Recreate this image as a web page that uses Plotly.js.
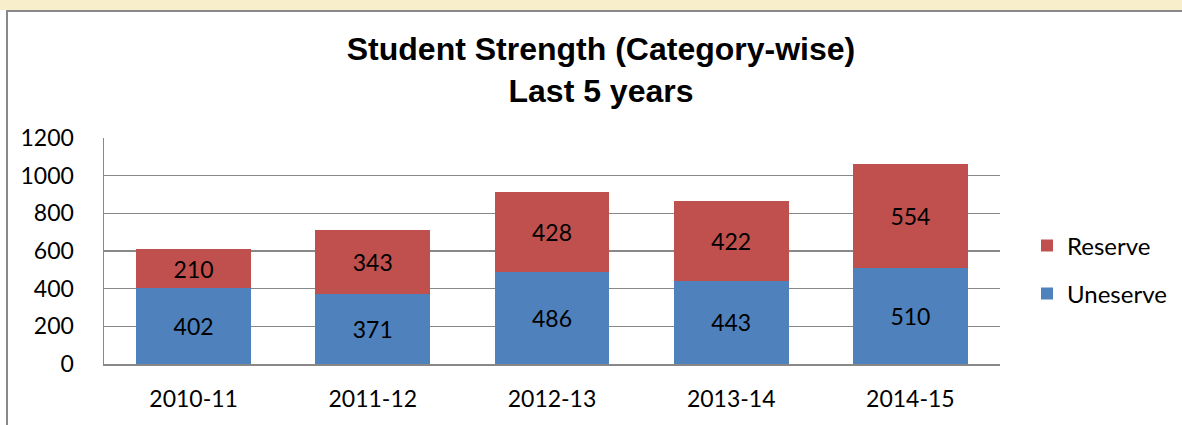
<!DOCTYPE html>
<html>
<head>
<meta charset="utf-8">
<script src="https://cdn.plot.ly/plotly-3.0.1.min.js"></script>
<style>html,body{margin:0;padding:0;background:#fff;}#chart{width:1182px;height:425px;}</style>
</head>
<body>
<div id="chart"></div>
<script>
const categories = ['2010-11', '2011-12', '2012-13', '2013-14', '2014-15'];
const unreserved = [402, 371, 486, 443, 510];
const reserved = [210, 343, 428, 422, 554];
const yTicks = [0, 200, 400, 600, 800, 1000, 1200];

const W = 1182, H = 425;
const mL = 104, mR = 182, mT = 138, mB = 61;
const pw = W - mL - mR, ph = H - mT - mB;
const px = x => (x - mL) / pw;
const py = y => (H - mB - y) / ph;

const baseFont = 'Lato, sans-serif';

const traces = [
  {
    type: 'bar', name: 'Uneserve', x: categories, y: unreserved,
    marker: {color: '#4F81BD'},
    text: unreserved.map(String), textposition: 'inside', insidetextanchor: 'middle',
    textfont: {family: baseFont, size: 23, color: '#000'},
    legend: 'legend2', hoverinfo: 'x+y+name'
  },
  {
    type: 'bar', name: 'Reserve', x: categories, y: reserved,
    marker: {color: '#C0504D'},
    text: reserved.map(String), textposition: 'inside', insidetextanchor: 'middle',
    textfont: {family: baseFont, size: 23, color: '#000'},
    legend: 'legend', hoverinfo: 'x+y+name'
  }
];

const legendStyle = y => ({
  xref: 'container', yref: 'container',
  x: 1027 / W, xanchor: 'left', y: 1 - y / H, yanchor: 'middle',
  font: {family: baseFont, size: 24, color: '#000'},
  bgcolor: 'rgba(0,0,0,0)', itemwidth: 30
});

const layout = {
  width: W, height: H,
  margin: {l: mL, r: mR, t: mT, b: mB, pad: 0, autoexpand: false},
  paper_bgcolor: '#ffffff', plot_bgcolor: '#ffffff',
  barmode: 'stack', bargap: 0.36,
  font: {family: baseFont, size: 23, color: '#000'},
  title: {
    text: '<b>Student Strength (Category-wise)</b><br><b>Last 5 years</b>',
    font: {family: 'Arial', size: 32, color: '#000'},
    x: 601 / W, xanchor: 'center', xref: 'container',
    y: 1 - 60 / H, yanchor: 'middle', yref: 'container'
  },
  xaxis: {
    type: 'category', showgrid: false, zeroline: false, automargin: false,
    showline: true, linecolor: '#888888', linewidth: 1.5,
    ticks: '', tickfont: {family: baseFont, size: 23, color: '#000'},
    ticklabelstandoff: 14
  },
  yaxis: {
    range: [0, 1200], tickvals: yTicks, ticktext: yTicks.map(String), automargin: false,
    showgrid: true, gridcolor: '#888888', gridwidth: 1.5,
    zeroline: false, showline: true, linecolor: '#888888', linewidth: 1.5,
    ticks: '', tickfont: {family: baseFont, size: 23, color: '#000'},
    ticklabelstandoff: 24
  },
  showlegend: true,
  legend: legendStyle(246),
  legend2: legendStyle(294),
  shapes: [
    {type: 'rect', xref: 'paper', yref: 'paper', x0: px(0), x1: px(W), y0: py(10), y1: py(0),
     fillcolor: '#f8eecb', line: {width: 0}, layer: 'below'},
    {type: 'path', xref: 'paper', yref: 'paper',
     path: 'M ' + px(7) + ' ' + py(H + 5) + ' L ' + px(7) + ' ' + py(11) + ' L ' + px(W + 5) + ' ' + py(11),
     line: {color: '#888888', width: 2}, layer: 'above'}
  ]
};

Plotly.newPlot('chart', traces, layout, {displayModeBar: false, staticPlot: true});
</script>
</body>
</html>
